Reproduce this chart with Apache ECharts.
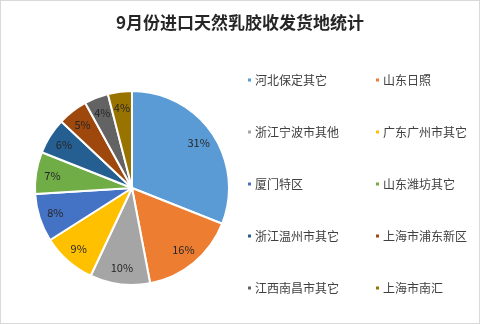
<!DOCTYPE html>
<html>
<head>
<meta charset="utf-8">
<script src="https://cdn.jsdelivr.net/npm/echarts@6/dist/echarts.min.js"></script>
<style>
  html, body { margin: 0; padding: 0; background: #fff; }
  #chart { width: 478px; height: 322px; border: 1px solid #d9d9d9; }
</style>
</head>
<body>
<div id="chart"></div>
<script>
// 9月份进口天然乳胶收发货地统计 — share of shipments by location (%)
const categories = ['河北保定其它', '山东日照', '浙江宁波市其他', '广东广州市其它', '厦门特区',
  '山东潍坊其它', '浙江温州市其它', '上海市浦东新区', '江西南昌市其它', '上海市南汇'];
const shares = [31, 16, 10, 9, 8, 7, 6, 5, 4, 4];
const palette = ['#5B9BD5', '#ED7D31', '#A5A5A5', '#FFC000', '#4472C4',
  '#70AD47', '#255E91', '#9E480E', '#636363', '#997300'];

const font = '"Noto Sans CJK SC", "Noto Sans", sans-serif';
const pieData = categories.map((name, i) => ({ name, value: shares[i] }));
const center = [131, 187];
const radius = 97;

const chart = echarts.init(document.getElementById('chart'));
chart.setOption({
  animation: false,
  color: palette,
  title: {
    text: '9月份进口天然乳胶收发货地统计',
    left: 'center', top: 8,
    textStyle: { fontFamily: font, fontSize: 17, fontWeight: 'bold', color: '#262626' }
  },
  legend: [
    {
      data: categories.filter((_, i) => i % 2 === 0),
      orient: 'vertical', left: 240, top: 68, itemGap: 40,
      itemWidth: 5, itemHeight: 5, icon: 'rect',
      textStyle: { fontFamily: font, fontSize: 12, color: '#404040', padding: [0, 0, 0, -2] }
    },
    {
      data: categories.filter((_, i) => i % 2 === 1),
      orient: 'vertical', left: 368, top: 68, itemGap: 40,
      itemWidth: 5, itemHeight: 5, icon: 'rect',
      textStyle: { fontFamily: font, fontSize: 12, color: '#404040', padding: [0, 0, 0, -2] }
    }
  ],
  series: [
    {
      type: 'pie',
      center, radius: [0, radius],
      startAngle: 90, clockwise: true,
      data: pieData,
      itemStyle: { borderColor: '#fff', borderWidth: 2 },
      label: { show: false },
      labelLine: { show: false },
      emphasis: { disabled: true }
    },
    {
      // label ring: places the percentage text at about 80% of the radius
      type: 'pie',
      center, radius: [radius * 0.6, radius],
      startAngle: 90, clockwise: true,
      data: pieData,
      silent: true,
      legendHoverLink: false,
      itemStyle: { color: 'rgba(0,0,0,0)', borderWidth: 0 },
      label: {
        show: true, position: 'inside', formatter: '{c}%',
        fontFamily: font, fontSize: 11, color: '#262626'
      },
      labelLine: { show: false },
      emphasis: { disabled: true }
    }
  ]
});
</script>
</body>
</html>
